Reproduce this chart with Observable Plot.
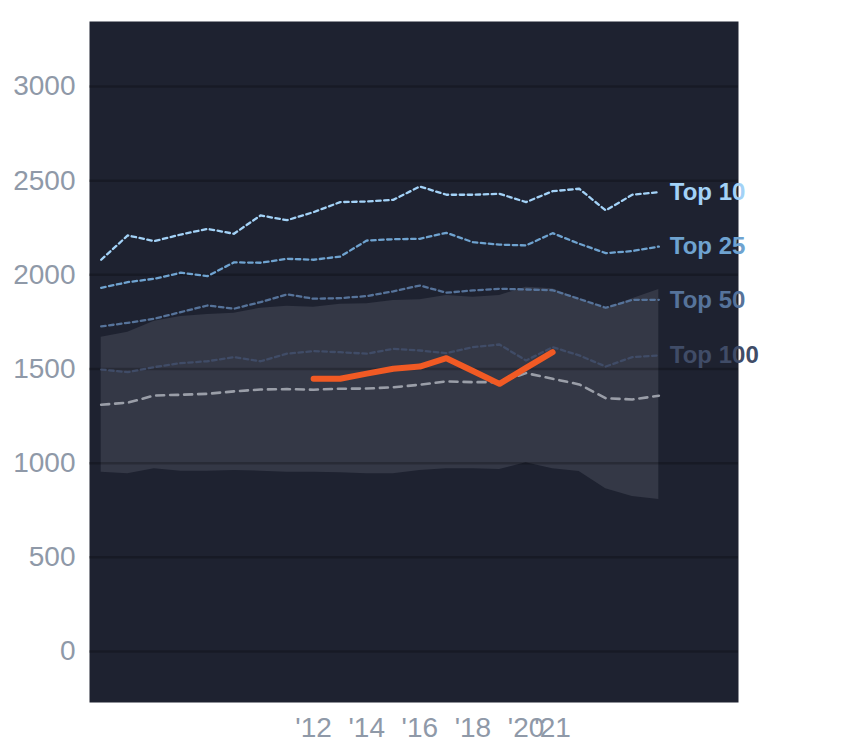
<!DOCTYPE html>
<html>
<head>
<meta charset="utf-8">
<script src="https://cdn.jsdelivr.net/npm/d3@7"></script>
<script src="https://cdn.jsdelivr.net/npm/@observablehq/plot@0.6"></script>
<style>
  html, body { margin: 0; padding: 0; background: #ffffff; }
  #chart svg { display: block; }
</style>
</head>
<body>
<div id="chart"></div>
<script>
const years   = [2004,2005,2006,2007,2008,2009,2010,2011,2012,2013,2014,2015,2016,2017,2018,2019,2020,2021,2022,2023,2024,2025];
const top10   = [2080,2209,2179,2214,2244,2218,2315,2290,2333,2386,2389,2398,2469,2425,2425,2430,2386,2444,2457,2342,2425,2439];
const top25   = [1931,1961,1979,2011,1993,2066,2064,2085,2080,2097,2182,2189,2191,2223,2173,2160,2156,2221,2165,2115,2126,2150];
const top50   = [1726,1745,1767,1802,1837,1820,1855,1896,1873,1876,1887,1912,1943,1905,1917,1926,1922,1918,1872,1825,1867,1867];
const top100  = [1497,1483,1510,1531,1541,1563,1541,1581,1595,1589,1581,1607,1598,1584,1616,1630,1545,1616,1572,1513,1563,1572];
const median  = [1310,1321,1359,1363,1368,1381,1391,1393,1390,1395,1396,1403,1416,1434,1430,1430,1478,1448,1418,1345,1338,1358];
const bandLow = [952,944,970,957,957,961,957,952,952,949,944,944,961,970,970,966,1002,970,956,864,823,807];
const bandHigh= [1669,1695,1754,1779,1789,1796,1823,1833,1828,1843,1846,1864,1867,1890,1881,1890,1934,1926,1873,1820,1873,1922];
const playerYears  = [2012,2013,2014,2015,2016,2017,2018,2019,2020,2021];
const playerValues = [1448,1448,1475,1501,1513,1557,1489,1421,1506,1589];
const tierNames  = ["Top 10","Top 25","Top 50","Top 100"];
const tierColors = ["#a3d2f7","#6fa3d0","#56739a","#404c67"];
const yTicks = [0,500,1000,1500,2000,2500,3000];
const xTicks = [2012,2014,2016,2018,2020,2021];

const tierSeries = [top10, top25, top50, top100];
const tierRows = tierSeries.flatMap((vals, i) => years.map((yr, j) => ({year: yr, value: vals[j], tier: tierNames[i]})));
const bandRows = years.map((yr, j) => ({year: yr, lo: bandLow[j], hi: bandHigh[j]}));
const medianRows = years.map((yr, j) => ({year: yr, value: median[j]}));
const playerRows = playerYears.map((yr, j) => ({year: yr, value: playerValues[j]}));
const labelRows = tierSeries.map((vals, i) => ({year: years[years.length - 1], value: vals[vals.length - 1], tier: tierNames[i]}));

const chart = Plot.plot({
  width: 844,
  height: 748,
  marginLeft: 89,
  marginRight: 106,
  marginTop: 21,
  marginBottom: 46,
  style: {fontFamily: "'Liberation Sans', Arial, sans-serif", background: "transparent", overflow: "visible"},
  x: {domain: [2003.56, 2028], label: null},
  y: {domain: [-271, 3345], label: null},
  color: {domain: tierNames, range: tierColors},
  marks: [
    Plot.frame({fill: "#1e2230", stroke: null}),
    Plot.areaY(bandRows, {x: "year", y1: "lo", y2: "hi", fill: "#343846"}),
    Plot.gridY(yTicks, {stroke: "#000000", strokeOpacity: 0.22, strokeWidth: 2.5}),
    Plot.lineY(tierRows, {x: "year", y: "value", z: "tier", stroke: "tier", strokeWidth: 2.3, strokeDasharray: "4.5,3.5"}),
    Plot.lineY(medianRows, {x: "year", y: "value", stroke: "#9a9ea8", strokeWidth: 2.6, strokeDasharray: "8,6"}),
    Plot.lineY(playerRows, {x: "year", y: "value", stroke: "#f15a24", strokeWidth: 6}),
    Plot.text(labelRows, {x: "year", y: "value", text: "tier", fill: "tier", dx: 11, textAnchor: "start", fontSize: 24, fontWeight: "bold", lineAnchor: "middle"}),
    Plot.axisY(yTicks, {tickSize: 0, tickPadding: 14, fontSize: 28, fill: "#8f99a8", anchor: "left", label: null, tickFormat: d => String(d)}),
    Plot.axisX(xTicks, {tickSize: 0, tickPadding: 15, fontSize: 28, fill: "#8f99a8", anchor: "bottom", label: null, tickFormat: d => "'" + String(d).slice(2)})
  ]
});
document.getElementById("chart").appendChild(chart);
</script>
</body>
</html>
